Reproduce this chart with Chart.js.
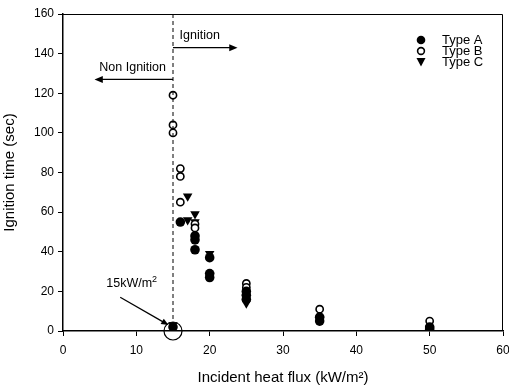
<!DOCTYPE html>
<html>
<head>
<meta charset="utf-8">
<script src="https://cdn.jsdelivr.net/npm/chart.js@4.4.0/dist/chart.umd.min.js"></script>
<style>
  html, body { margin: 0; padding: 0; background: #fff; }
  #wrap { width: 509px; height: 389px; }
</style>
</head>
<body>
<div id="wrap"><canvas id="ignitionChart" width="509" height="389"></canvas></div>
<script>
// Incident heat flux (kW/m2) and ignition time (sec) for each type
const typeAX = [15, 16, 18, 18, 18, 20, 20, 20, 25, 25, 25, 35, 35, 50, 50];
const typeAY = [2, 55, 48, 46, 41, 37, 29, 27, 20, 18, 16, 7, 5, 2, 1];
const typeBX = [15, 15, 15, 16, 16, 16, 18, 18, 25, 25, 35, 50];
const typeBY = [119, 104, 100, 82, 78, 65, 54, 52, 24, 22, 11, 5];
const typeCX = [15, 17, 17, 18, 18, 20, 20, 25, 25, 35, 50];
const typeCY = [3, 68, 56, 59, 55, 39, 28, 17, 14, 6, 1];

const xTicks = [0, 10, 20, 30, 40, 50, 60];
const yTicks = [0, 20, 40, 60, 80, 100, 120, 140, 160];

const criticalFlux = 15;
const FONT = "'Liberation Sans', Arial, sans-serif";

function toPoints(xs, ys) {
  return xs.map((x, i) => ({ x: x, y: ys[i] }));
}

// draws an arrow in pixel space with a filled head
function arrow(ctx, x1, y1, x2, y2, head) {
  const a = Math.atan2(y2 - y1, x2 - x1);
  ctx.beginPath();
  ctx.moveTo(x1, y1);
  ctx.lineTo(x2 - Math.cos(a) * head * 0.8, y2 - Math.sin(a) * head * 0.8);
  ctx.stroke();
  ctx.beginPath();
  ctx.moveTo(x2, y2);
  ctx.lineTo(x2 - head * Math.cos(a - 0.4), y2 - head * Math.sin(a - 0.4));
  ctx.lineTo(x2 - head * Math.cos(a + 0.4), y2 - head * Math.sin(a + 0.4));
  ctx.closePath();
  ctx.fill();
}

const annotations = {
  id: "annotations",
  afterDraw(chart) {
    const { ctx, chartArea, scales } = chart;
    const xs = scales.x, ys = scales.y;
    ctx.save();
    ctx.strokeStyle = "#000";
    ctx.fillStyle = "#000";

    // frame top and right
    ctx.lineWidth = 1;
    ctx.beginPath();
    ctx.moveTo(chartArea.left, chartArea.top + 0.5);
    ctx.lineTo(chartArea.right - 0.5, chartArea.top + 0.5);
    ctx.lineTo(chartArea.right - 0.5, chartArea.bottom);
    ctx.stroke();

    // critical flux dashed line
    const xc = xs.getPixelForValue(criticalFlux);
    ctx.setLineDash([4, 3]);
    ctx.beginPath();
    ctx.moveTo(xc, ys.getPixelForValue(160));
    ctx.lineTo(xc, ys.getPixelForValue(2));
    ctx.stroke();
    ctx.setLineDash([]);

    // ignition / non ignition arrows
    ctx.lineWidth = 1.2;
    const yIgn = ys.getPixelForValue(143);
    arrow(ctx, xc, yIgn, xs.getPixelForValue(23.8), yIgn, 9);
    const yNon = ys.getPixelForValue(127);
    arrow(ctx, xc, yNon, xs.getPixelForValue(4.3), yNon, 9);

    ctx.font = "12.5px " + FONT;
    ctx.textBaseline = "middle";
    ctx.textAlign = "left";
    ctx.fillText("Ignition", xs.getPixelForValue(15.9), ys.getPixelForValue(149));
    ctx.textAlign = "center";
    ctx.fillText("Non Ignition", xs.getPixelForValue(9.5), ys.getPixelForValue(133));

    // 15 kW/m2 callout
    ctx.textAlign = "left";
    const tx = xs.getPixelForValue(5.9), ty = ys.getPixelForValue(24);
    ctx.fillText("15kW/m", tx, ty);
    const w = ctx.measureText("15kW/m").width;
    ctx.font = "9px " + FONT;
    ctx.fillText("2", tx + w, ty - 4);
    ctx.lineWidth = 1.2;
    arrow(ctx, xs.getPixelForValue(7.8), ys.getPixelForValue(17),
               xs.getPixelForValue(14.4), ys.getPixelForValue(3), 8);
    ctx.beginPath();
    ctx.arc(xc, ys.getPixelForValue(0), 9, 0, Math.PI * 2);
    ctx.stroke();

    // legend
    const lx = 421, ly = [40, 51, 62];
    ctx.font = "13px " + FONT;
    ctx.textAlign = "left";
    ctx.beginPath();
    ctx.arc(lx, ly[0], 4.3, 0, Math.PI * 2);
    ctx.fill();
    ctx.lineWidth = 1.6;
    ctx.beginPath();
    ctx.arc(lx, ly[1], 3.4, 0, Math.PI * 2);
    ctx.stroke();
    ctx.beginPath();
    ctx.moveTo(lx - 4.5, ly[2] - 4);
    ctx.lineTo(lx + 4.5, ly[2] - 4);
    ctx.lineTo(lx, ly[2] + 4.5);
    ctx.closePath();
    ctx.fill();
    ctx.fillText("Type A", 442, ly[0]);
    ctx.fillText("Type B", 442, ly[1]);
    ctx.fillText("Type C", 442, ly[2]);
    ctx.restore();
  }
};

const ctx = document.getElementById("ignitionChart").getContext("2d");
new Chart(ctx, {
  type: "scatter",
  data: {
    datasets: [
      {
        label: "Type A",
        data: toPoints(typeAX, typeAY),
        pointStyle: "circle",
        pointRadius: 4.8,
        backgroundColor: "#000",
        borderColor: "#000",
        borderWidth: 0
      },
      {
        label: "Type B",
        data: toPoints(typeBX, typeBY),
        pointStyle: "circle",
        pointRadius: 3.6,
        backgroundColor: "#fff",
        borderColor: "#000",
        borderWidth: 1.6
      },
      {
        label: "Type C",
        data: toPoints(typeCX, typeCY),
        pointStyle: "triangle",
        rotation: 180,
        pointRadius: 5.5,
        backgroundColor: "#000",
        borderColor: "#000",
        borderWidth: 0
      }
    ]
  },
  options: {
    responsive: false,
    animation: false,
    layout: { padding: { top: 14, right: 6, left: 0, bottom: 0 } },
    plugins: {
      legend: { display: false },
      tooltip: { enabled: false }
    },
    scales: {
      x: {
        type: "linear",
        min: 0,
        max: 60,
        afterBuildTicks: s => { s.ticks = xTicks.map(v => ({ value: v })); },
        afterFit: s => { s.height = 58; s.paddingLeft = 0; s.paddingRight = 0; },
        ticks: { color: "#000", font: { family: FONT, size: 12 }, padding: 7, maxRotation: 0 },
        grid: { drawOnChartArea: false, tickLength: 5, color: "#000" },
        border: { color: "#000", width: 1.5 },
        title: {
          display: true,
          text: "Incident heat flux (kW/m²)",
          color: "#000",
          font: { family: FONT, size: 15 },
          padding: { top: 4, bottom: 2 }
        }
      },
      y: {
        type: "linear",
        min: 0,
        max: 160,
        afterBuildTicks: s => { s.ticks = yTicks.map(v => ({ value: v })); },
        afterFit: s => { s.width = 63; s.paddingTop = 0; s.paddingBottom = 0; },
        ticks: { color: "#000", font: { family: FONT, size: 12 }, padding: 4 },
        grid: { drawOnChartArea: false, tickLength: 5, color: "#000" },
        border: { color: "#000", width: 1.5 },
        title: {
          display: true,
          text: "Ignition time (sec)",
          color: "#000",
          font: { family: FONT, size: 15 },
          padding: { top: 1, bottom: 4 }
        }
      }
    }
  },
  plugins: [annotations]
});
</script>
</body>
</html>
